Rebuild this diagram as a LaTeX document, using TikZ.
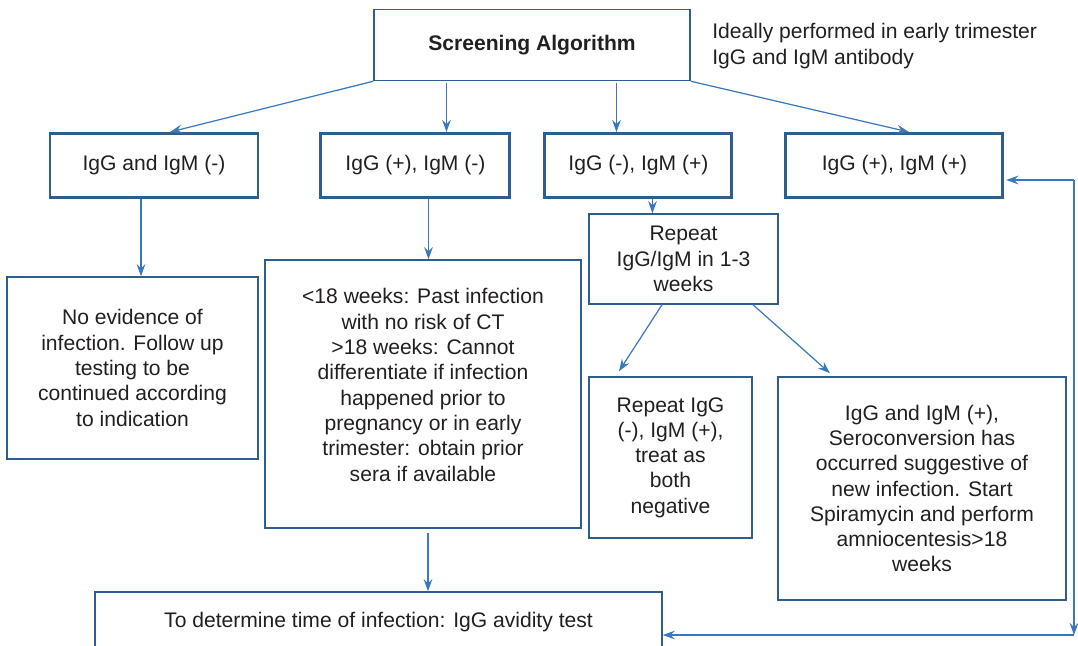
\documentclass[tikz,border=0pt]{standalone}
\usepackage{fontspec}
\setmainfont{Liberation Sans}
\usetikzlibrary{positioning,arrows.meta}
\definecolor{boxblue}{RGB}{46,94,142}
\definecolor{arrblue}{RGB}{58,120,190}
\definecolor{txtgray}{RGB}{35,31,32}

\begin{document}
\begin{tikzpicture}[
    every node/.style={font=\fontsize{12}{14.4}\selectfont, text=txtgray},
    box/.style={draw=boxblue, line width=0.85pt, align=center, inner sep=2pt},
    rowbox/.style={box, line width=1.7pt, minimum width=#1, minimum height=1.28cm},
    arr/.style={draw=arrblue, line width=0.7pt, -{Stealth[length=7pt,width=5pt,inset=2.5pt]}},
]
    \useasboundingbox (0,0) rectangle (21.56,-12.9);

    \node[box, minimum width=6.32cm, minimum height=1.42cm, font=\fontsize{12}{14.4}\selectfont\bfseries] (s0) at (10.64,-0.9) {Screening Algorithm};
    \node[anchor=west, align=left, inner sep=0pt] (s1) at (14.24,-0.92) {Ideally performed in early trimester\\IgG and IgM antibody};

    \node[rowbox=4.16cm] (r1) at (3.08,-3.31) {IgG and IgM (-)};
    \node[rowbox=3.78cm, right=1.2cm of r1] (r2) {IgG (+), IgM (-)};
    \node[rowbox=3.74cm, right=0.64cm of r2] (r3) {IgG (-), IgM (+)};
    \node[rowbox=4.34cm, right=1.02cm of r3] (r4) {IgG (+), IgM (+)};

    \node[box, minimum width=5.02cm, minimum height=3.64cm] (n1) at (2.65,-7.36) {No evidence of\\infection. Follow up\\testing to be\\continued according\\to indication};
    \node[box, minimum width=6.32cm, minimum height=5.36cm] (n2) at (8.46,-7.88) {<18 weeks: Past infection\\with no risk of CT\\>18 weeks: Cannot\\differentiate if infection\\happened prior to\\pregnancy or in early\\trimester: obtain prior\\sera if available\\[-4pt]\mbox{}};
    \node[box, minimum width=3.78cm, minimum height=1.8cm] (n3) at (13.67,-5.18) {Repeat\\IgG/IgM in 1-3\\weeks};
    \node[box, minimum width=3.26cm, minimum height=3.22cm] (n4) at (13.41,-9.15) {Repeat IgG\\(-), IgM (+),\\treat as\\both\\negative};
    \node[box, minimum width=5.76cm, minimum height=4.46cm] (n5) at (18.44,-9.77) {IgG and IgM (+),\\Seroconversion has\\occurred suggestive of\\new infection. Start\\Spiramycin and perform\\amniocentesis>18\\weeks};
    \node[box, minimum width=11.34cm, minimum height=1.2cm] (n6) at (7.57,-12.44) {To determine time of infection: IgG avidity test};

    \coordinate (c1) at (21.48,-3.6);
    \coordinate (c2) at (21.48,-12.7);

    \draw[arr] (s0.south west) -- ([xshift=0.32cm]r1.north);
    \draw[arr] ([xshift=0.62cm,yshift=-0.04cm]r2.north |- s0.south) -- ([xshift=0.62cm]r2.north);
    \draw[arr] ([xshift=-0.44cm,yshift=-0.04cm]r3.north |- s0.south) -- ([xshift=-0.44cm]r3.north);
    \draw[arr] (s0.south east) -- ([xshift=0.29cm]r4.north);
    \draw[arr] ([xshift=-0.26cm]r1.south) -- ([xshift=-0.26cm]r1.south |- n1.north);
    \draw[arr] ([xshift=0.26cm]r2.south) -- ([xshift=0.26cm]r2.south |- n2.north);
    \draw[arr] ([xshift=0.28cm]r3.south) -- ([xshift=0.28cm]r3.south |- n3.north);
    \draw[arr] ([xshift=-0.43cm]n3.south) -- ([xshift=-1.03cm,yshift=0.1cm]n4.north);
    \draw[arr] ([xshift=1.39cm]n3.south) -- ([xshift=-1.84cm,yshift=0.06cm]n5.north);
    \draw[arr] ([xshift=0.1cm,yshift=-0.08cm]n2.south) -- ([xshift=0.1cm]n2.south |- n6.north);
    \draw[arr] (c1) -- (c2);
    \draw[arr, shorten >=1pt] (c1) -- (r4.east |- c1);
    \draw[arr] (c2) -- (n6.east |- c2);
\end{tikzpicture}
\end{document}
